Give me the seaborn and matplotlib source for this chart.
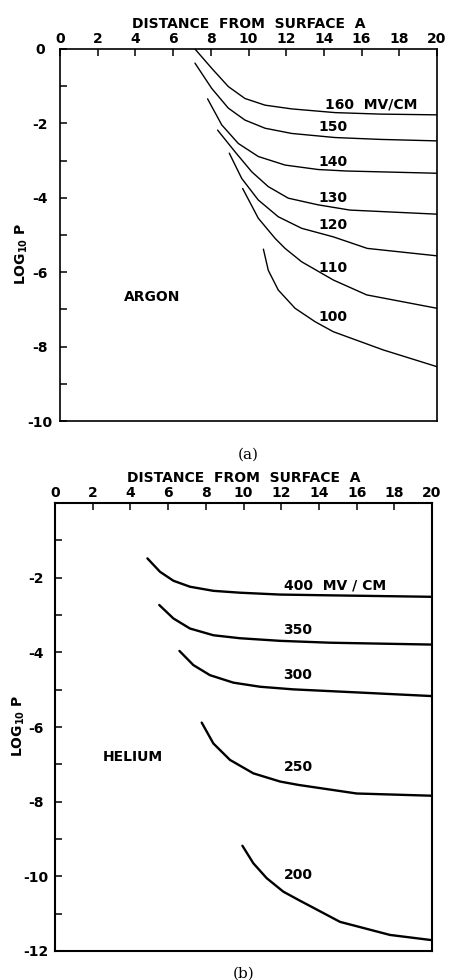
import pandas as pd
import seaborn as sns
import matplotlib.pyplot as plt

# ==========================================
# Data (x = distance, y = log10 P)
# ==========================================
# (a) argon, field in MV/cm
argon_160_x = [7.16, 8.05, 8.93, 9.81, 10.88, 12.29, 14.59, 16.98, 20.0]
argon_160_y = [0.0, -0.52, -1.01, -1.33, -1.51, -1.61, -1.71, -1.75, -1.77]
argon_150_x = [7.16, 8.05, 8.93, 9.81, 10.88, 12.29, 14.59, 16.98, 20.0]
argon_150_y = [-0.38, -1.06, -1.59, -1.91, -2.13, -2.27, -2.38, -2.43, -2.47]
argon_140_x = [7.83, 8.58, 9.46, 10.52, 11.94, 13.7, 15.21, 20.0]
argon_140_y = [-1.34, -2.04, -2.54, -2.89, -3.12, -3.24, -3.28, -3.34]
argon_130_x = [8.36, 9.28, 10.17, 11.05, 12.11, 13.7, 15.38, 20.0]
argon_130_y = [-2.18, -2.76, -3.3, -3.7, -4.01, -4.19, -4.33, -4.44]
argon_120_x = [8.98, 9.64, 10.52, 11.58, 12.82, 14.5, 16.3, 20.0]
argon_120_y = [-2.8, -3.48, -4.06, -4.51, -4.82, -5.05, -5.36, -5.56]
argon_110_x = [9.69, 10.52, 11.41, 11.94, 12.82, 14.5, 16.27, 20.0]
argon_110_y = [-3.75, -4.55, -5.09, -5.36, -5.72, -6.21, -6.61, -6.97]
argon_100_x = [10.79, 11.05, 11.58, 12.47, 13.53, 14.5, 17.15, 20.0]
argon_100_y = [-5.38, -5.95, -6.48, -6.97, -7.33, -7.6, -8.09, -8.54]

argon_fields = ["160", "150", "140", "130", "120", "110", "100"]
argon_labels = ["160  MV/CM", "150", "140", "130", "120", "110", "100"]
argon_label_x = [16.5, 14.5, 14.5, 14.5, 14.5, 14.5, 14.5]
argon_label_y = [-1.5, -2.09, -3.03, -4.0, -4.73, -5.9, -7.2]

# (b) helium
helium_400_x = [4.9, 5.57, 6.28, 7.16, 8.4, 9.81, 11.94, 14.5, 20.0]
helium_400_y = [-1.48, -1.84, -2.08, -2.24, -2.35, -2.4, -2.45, -2.47, -2.51]
helium_350_x = [5.53, 6.28, 7.16, 8.4, 9.81, 11.94, 14.59, 20.0]
helium_350_y = [-2.73, -3.09, -3.36, -3.54, -3.62, -3.69, -3.74, -3.79]
helium_300_x = [6.6, 7.34, 8.22, 9.46, 10.88, 12.64, 16.36, 20.0]
helium_300_y = [-3.96, -4.34, -4.61, -4.81, -4.92, -4.99, -5.08, -5.17]
helium_250_x = [7.78, 8.4, 9.28, 10.52, 11.94, 12.91, 16.0, 20.0]
helium_250_y = [-5.88, -6.44, -6.88, -7.24, -7.46, -7.55, -7.78, -7.84]
helium_200_x = [9.94, 10.52, 11.23, 12.11, 12.91, 15.12, 17.77, 20.0]
helium_200_y = [-9.18, -9.65, -10.05, -10.41, -10.63, -11.22, -11.57, -11.71]

helium_fields = ["400", "350", "300", "250", "200"]
helium_labels = ["400  MV / CM", "350", "300", "250", "200"]
helium_label_x = [14.85, 12.85, 12.85, 12.9, 12.9]
helium_label_y = [-2.2, -3.4, -4.6, -7.06, -9.96]

x_ticks = [0, 2, 4, 6, 8, 10, 12, 14, 16, 18, 20]

# build long tables
argon_x = [argon_160_x, argon_150_x, argon_140_x, argon_130_x,
           argon_120_x, argon_110_x, argon_100_x]
argon_y = [argon_160_y, argon_150_y, argon_140_y, argon_130_y,
           argon_120_y, argon_110_y, argon_100_y]
helium_x = [helium_400_x, helium_350_x, helium_300_x, helium_250_x, helium_200_x]
helium_y = [helium_400_y, helium_350_y, helium_300_y, helium_250_y, helium_200_y]


def long_table(fields, xs, ys):
    rows = []
    for f, xx, yy in zip(fields, xs, ys):
        for a, b in zip(xx, yy):
            rows.append({"field": f, "distance": a, "logp": b})
    return pd.DataFrame(rows)


argon_df = long_table(argon_fields, argon_x, argon_y)
helium_df = long_table(helium_fields, helium_x, helium_y)

# Style
sns.set_style("white")
plt.rcParams["font.family"] = ["DejaVu Sans"]
plt.rcParams["axes.unicode_minus"] = False
plt.rcParams["text.color"] = "black"
plt.rcParams["axes.labelcolor"] = "black"
plt.rcParams["xtick.color"] = "black"
plt.rcParams["ytick.color"] = "black"

fig = plt.figure(figsize=(4.51, 9.8), dpi=100)
ax_a = fig.add_axes([0.133, 0.5704, 0.836, 0.3796])
ax_b = fig.add_axes([0.122, 0.0296, 0.836, 0.457])


def style_axes(ax, ymin, yticks, ypad, lw, label_x, label_y):
    ax.set_xlim(0, 20)
    ax.set_ylim(ymin, 0)
    ax.xaxis.tick_top()
    ax.xaxis.set_label_position("top")
    ax.set_xticks(x_ticks)
    ax.set_xticklabels([str(t) for t in x_ticks], fontsize=10, fontweight="bold")
    ax.set_yticks(yticks)
    ax.set_yticklabels([str(t) for t in yticks], fontsize=10, fontweight="bold",
                       ha="center")
    ax.set_yticks(list(range(ymin + 1, 0, 2)), minor=True)
    ax.tick_params(axis="x", direction="in", length=5, width=1.1, pad=2,
                   top=True, bottom=False)
    ax.tick_params(axis="y", which="both", direction="in", length=5, width=1.1,
                   left=True, right=False)
    ax.tick_params(axis="y", which="major", pad=ypad)
    ax.set_xlabel("DISTANCE  FROM  SURFACE  A", fontsize=10, fontweight="bold",
                  labelpad=3)
    ax.set_ylabel("LOG$_{\\mathbf{10}}$ P", fontsize=10, fontweight="bold")
    ax.yaxis.set_label_coords(label_x, label_y)
    for s in ax.spines.values():
        s.set_visible(True)
        s.set_color("black")
        s.set_linewidth(lw)


# ==========================================
# (a) Argon
# ==========================================
sns.lineplot(data=argon_df, x="distance", y="logp", units="field",
             estimator=None, sort=False, color="black", linewidth=1.0, ax=ax_a)
style_axes(ax_a, -10, [0, -2, -4, -6, -8, -10], 14.5, 1.2, -0.08, 0.45)
for t, lx, ly in zip(argon_labels, argon_label_x, argon_label_y):
    ax_a.text(lx, ly, t, fontsize=10, fontweight="bold", ha="center", va="center")
ax_a.text(4.9, -6.67, "ARGON", fontsize=10, fontweight="bold", ha="center",
          va="center")
ax_a.text(0.5, -0.09, "(a)", transform=ax_a.transAxes, fontsize=11,
          family="DejaVu Serif", ha="center", va="center")

# ==========================================
# (b) Helium
# ==========================================
sns.lineplot(data=helium_df, x="distance", y="logp", units="field",
             estimator=None, sort=False, color="black", linewidth=1.7, ax=ax_b)
style_axes(ax_b, -12, [-2, -4, -6, -8, -10, -12], 14, 1.5, -0.075, 0.504)
for t, lx, ly in zip(helium_labels, helium_label_x, helium_label_y):
    ax_b.text(lx, ly, t, fontsize=10, fontweight="bold", ha="center", va="center")
ax_b.text(4.1, -6.8, "HELIUM", fontsize=10, fontweight="bold", ha="center",
          va="center")
ax_b.text(0.5, -0.05, "(b)", transform=ax_b.transAxes, fontsize=11,
          family="DejaVu Serif", ha="center", va="center")

plt.savefig("out.png", dpi=100)
